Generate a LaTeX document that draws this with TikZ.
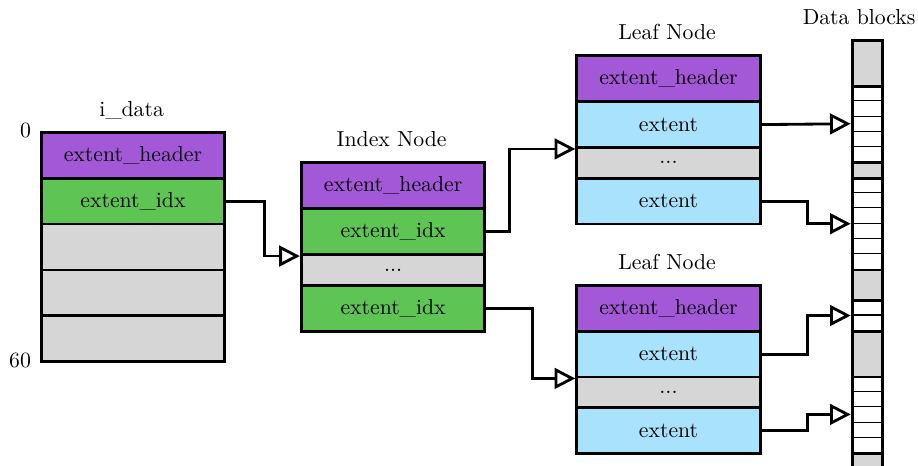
\documentclass[tikz,border=0pt]{standalone}
\usetikzlibrary{arrows.meta}
\definecolor{hdrcol}{HTML}{A358D8}
\definecolor{idxcol}{HTML}{5EC555}
\definecolor{extcol}{HTML}{A8E2FC}
\definecolor{freecol}{HTML}{D6D6D6}
\def\cellu{7.04pt}
\tikzset{
  cell/.style={draw, line width=1.3pt, anchor=north west, inner sep=0pt,
    minimum width=12*\cellu, minimum height=3*\cellu},
  halfcell/.style={cell, minimum height=2*\cellu, fill=freecol},
  hdrcell/.style={cell, fill=hdrcol},
  idxcell/.style={cell, fill=idxcol},
  extcell/.style={cell, fill=extcol},
  freecell/.style={cell, fill=freecol},
  blk/.style={draw, line width=0.5pt, fill=white, anchor=north west, inner sep=0pt,
    minimum width=2*\cellu, minimum height=\cellu},
  gblk/.style={draw, line width=1.3pt, fill=freecol, anchor=north west, inner sep=0pt,
    minimum width=2*\cellu, minimum height=#1*\cellu},
  title/.style={anchor=base, inner sep=0pt},
  offset/.style={anchor=east, inner sep=0pt},
  conn/.style={line width=1.3pt, -{Triangle[open, length=9.5pt, width=9.5pt]}}
}
\begin{document}
\begin{tikzpicture}[x=\cellu, y=-\cellu]
\clip (-0.6,-0.55) rectangle (59.4,29.9);

% i_data array of the inode
\node[title] (ititle) at (8,7.05) {i\_data};
\node[offset] (o0) at (1.45,8) {0};
\node[offset] (o60) at (1.45,23) {60};
\node[hdrcell] (ih) at (2,8) {extent\_header};
\node[idxcell] (ix) at (2,11) {extent\_idx};
\node[freecell] (if1) at (2,14) {};
\node[freecell] (if2) at (2,17) {};
\node[freecell] (if3) at (2,20) {};

% index node
\node[title] (ptitle) at (25,9.05) {Index Node};
\node[hdrcell] (ph) at (19,10) {extent\_header};
\node[idxcell] (px1) at (19,13) {extent\_idx};
\node[halfcell] (pd) at (19,16) {...};
\node[idxcell] (px2) at (19,18) {extent\_idx};

% first leaf node
\node[title] (l1title) at (43,2.05) {Leaf Node};
\node[hdrcell] (l1h) at (37,3) {extent\_header};
\node[extcell] (l1e1) at (37,6) {extent};
\node[halfcell] (l1d) at (37,9) {...};
\node[extcell] (l1e2) at (37,11) {extent};

% second leaf node
\node[title] (l2title) at (43,17.05) {Leaf Node};
\node[hdrcell] (l2h) at (37,18) {extent\_header};
\node[extcell] (l2e1) at (37,21) {extent};
\node[halfcell] (l2d) at (37,24) {...};
\node[extcell] (l2e2) at (37,26) {extent};

% data blocks column
\node[title] (dtitle) at (55.55,1.05) {Data blocks};
\foreach \t in {5,...,9,11,12,...,16,19,20,24,25,...,28}
  \node[blk] (b\t) at (55,\t) {};
\node[gblk=3] (g2) at (55,2) {};
\node[gblk=1] (g10) at (55,10) {};
\node[gblk=2] (g17) at (55,17) {};
\node[gblk=3] (g21) at (55,21) {};
\node[gblk=3] (g29) at (55,29) {};
\node[draw, line width=1.3pt, anchor=north west, inner sep=0pt,
  minimum width=2*\cellu, minimum height=30*\cellu] (datacol) at (55,2) {};

% pointers
\draw[conn] (ix.east) -- ++(2.5,0) |- (px1.south west);
\draw[conn] (px1.east) -- ++(1.5,0) |- (l1e1.south west);
\draw[conn] (px2.east) -- ++(3,0) |- (l2e1.south west);
\draw[conn] (l1e1.east) -- (b7.west -| datacol.west);
\draw[conn] (l1e2.east) -- ++(3,0) |- (b13.south -| datacol.west);
\draw[conn] (l2e1.east) -- ++(3,0) |- (b19.south -| datacol.west);
\draw[conn] (l2e2.east) -- ++(3,0) |- (b26.west -| datacol.west);
\end{tikzpicture}
\end{document}
